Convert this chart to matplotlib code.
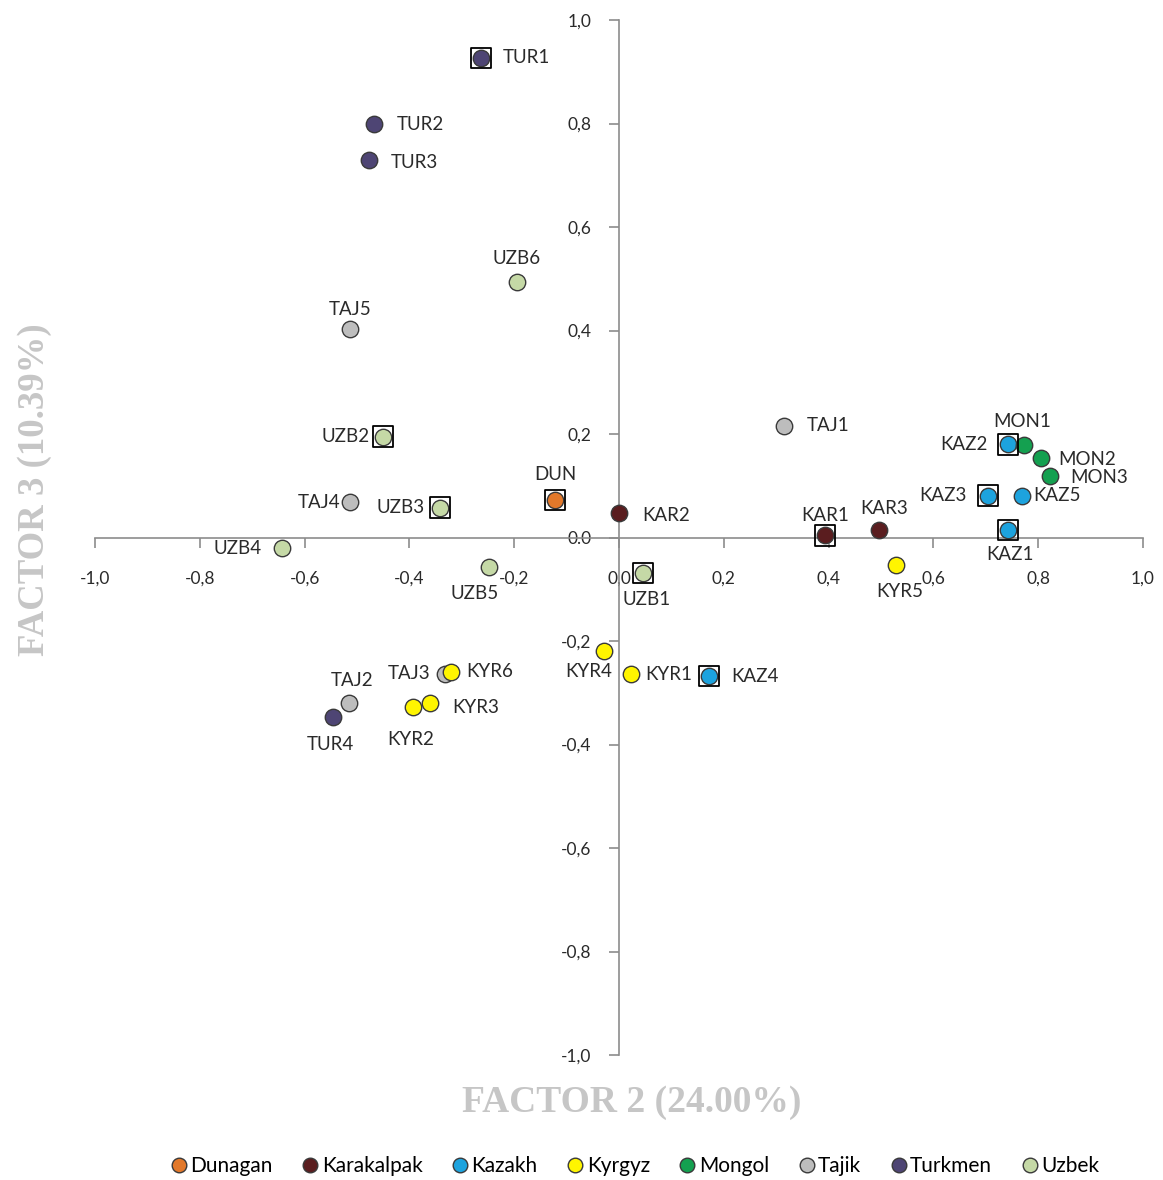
import matplotlib.pyplot as plt
from matplotlib.lines import Line2D

# factor scores (factor 2, factor 3) per sample
names = ["TUR1", "TUR2", "TUR3", "TUR4",
         "UZB1", "UZB2", "UZB3", "UZB4", "UZB5", "UZB6",
         "TAJ1", "TAJ2", "TAJ3", "TAJ4", "TAJ5",
         "DUN",
         "KAR1", "KAR2", "KAR3",
         "KAZ1", "KAZ2", "KAZ3", "KAZ4", "KAZ5",
         "MON1", "MON2", "MON3",
         "KYR1", "KYR2", "KYR3", "KYR4", "KYR5", "KYR6"]
factor2 = [-0.263, -0.468, -0.477, -0.546,
           0.046, -0.450, -0.342, -0.643, -0.248, -0.195,
           0.315, -0.515, -0.332, -0.513, -0.513,
           -0.122,
           0.393, 0.000, 0.496,
           0.742, 0.742, 0.704, 0.172, 0.769,
           0.773, 0.805, 0.823,
           0.023, -0.393, -0.361, -0.029, 0.529, -0.321]
factor3 = [0.927, 0.799, 0.730, -0.346,
           -0.069, 0.195, 0.058, -0.021, -0.056, 0.494,
           0.216, -0.319, -0.263, 0.068, 0.403,
           0.073,
           0.004, 0.048, 0.015,
           0.014, 0.180, 0.081, -0.268, 0.081,
           0.178, 0.154, 0.118,
           -0.264, -0.328, -0.320, -0.220, -0.054, -0.259]
groups = ["Turkmen"] * 4 + ["Uzbek"] * 6 + ["Tajik"] * 5 + ["Dunagan"] + \
         ["Karakalpak"] * 3 + ["Kazakh"] * 5 + ["Mongol"] * 3 + ["Kyrgyz"] * 6
boxed = ["TUR1", "UZB1", "UZB2", "UZB3", "DUN", "KAR1", "KAZ1", "KAZ2", "KAZ3", "KAZ4"]

group_order = ["Dunagan", "Karakalpak", "Kazakh", "Kyrgyz", "Mongol", "Tajik", "Turkmen", "Uzbek"]
group_colors = {"Dunagan": "#E2782A", "Karakalpak": "#5A1D1F", "Kazakh": "#1DA3DE",
                "Kyrgyz": "#FFF500", "Mongol": "#14A050", "Tajik": "#BDBDBD",
                "Turkmen": "#4E4574", "Uzbek": "#C5D9A6"}

# label offsets in pixels (dx, dy, ha)
label_pos = {
    "TUR1": (22, 0, "left"), "TUR2": (23, 0, "left"), "TUR3": (22, -3, "left"),
    "TUR4": (-3, -28, "center"),
    "UZB1": (4, -26, "center"), "UZB2": (-14, 0, "right"), "UZB3": (-15, 0, "right"),
    "UZB4": (-20, 0, "right"), "UZB5": (-14, -27, "center"), "UZB6": (0, 23, "center"),
    "TAJ1": (23, 0, "left"), "TAJ2": (3, 22, "center"), "TAJ3": (-15, 0, "right"),
    "TAJ4": (-10, 0, "right"), "TAJ5": (0, 20, "center"),
    "DUN": (0, 25, "center"),
    "KAR1": (0, 20, "center"), "KAR2": (23, -3, "left"), "KAR3": (5, 21, "center"),
    "KAZ1": (2, -24, "center"), "KAZ2": (-20, 0, "right"), "KAZ3": (-21, 0, "right"),
    "KAZ4": (22, 0, "left"), "KAZ5": (11, 0, "left"),
    "MON1": (-2, 24, "center"), "MON2": (17, -2, "left"), "MON3": (20, -1, "left"),
    "KYR1": (14, 0, "left"), "KYR2": (-2, -32, "center"), "KYR3": (22, -4, "left"),
    "KYR4": (-15, -20, "center"), "KYR5": (4, -26, "center"), "KYR6": (15, 0, "left"),
}

ticks = [-1.0, -0.8, -0.6, -0.4, -0.2, 0.0, 0.2, 0.4, 0.6, 0.8, 1.0]

fig = plt.figure(figsize=(11.63, 11.80), dpi=100)
ax = fig.add_axes([0.0817, 0.1059, 0.9011, 0.8771])
ax.set_xlim(-1, 1)
ax.set_ylim(-1, 1)

for n, x, y, g in zip(names, factor2, factor3, groups):
    ax.scatter(x, y, s=140, color=group_colors[g], edgecolor="#3a3a3a",
               linewidth=1.0, zorder=3)
    if n in boxed:
        ax.scatter(x, y, s=215, marker="s", facecolor="none", edgecolor="black",
                   linewidth=1.3, zorder=4)
    dx, dy, ha = label_pos[n]
    ax.annotate(n, (x, y), xytext=(dx, dy), textcoords="offset pixels",
                ha=ha, va="center", fontsize=13.5, family="Lato", color="#2a2a2a")

for side in ["top", "right"]:
    ax.spines[side].set_visible(False)
ax.spines["left"].set_position("zero")
ax.spines["bottom"].set_position("zero")
for side in ["left", "bottom"]:
    ax.spines[side].set_color("#8c8c8c")
    ax.spines[side].set_linewidth(1.2)

ax.set_xticks(ticks)
ax.set_yticks(ticks)
ax.set_xticklabels([f"{t:.1f}".replace(".", ",") for t in ticks])
ax.set_yticklabels(["0.0" if t == 0 else f"{t:.1f}".replace(".", ",") for t in ticks])
ax.tick_params(direction="out", length=7, width=1.2, color="#8c8c8c", labelsize=12.5,
               labelcolor="#2a2a2a")
ax.tick_params(axis="x", pad=17)
ax.tick_params(axis="y", pad=13)
for lbl in ax.get_xticklabels() + ax.get_yticklabels():
    lbl.set_family("Lato")

fig.text(0.543, 0.066, "FACTOR 2 (24.00%)", ha="center", va="center",
         fontsize=27, fontweight="bold", family="Liberation Serif", color="#c6c6c6")
fig.text(0.030, 0.585, "FACTOR 3 (10.39%)", ha="center", va="center", rotation=90,
         fontsize=26.5, fontweight="bold", family="Liberation Serif", color="#c6c6c6")

handles = [Line2D([], [], marker="o", linestyle="none", markersize=10.5,
                  markerfacecolor=group_colors[g], markeredgecolor="#3a3a3a",
                  markeredgewidth=1.0, label=g) for g in group_order]
leg = fig.legend(handles=handles, loc="center", bbox_to_anchor=(0.545, 0.012),
                 ncol=8, frameon=False, handletextpad=0.05, columnspacing=1.3,
                 handlelength=1.0, prop={"family": "Lato", "size": 15})

fig.savefig("out.png", dpi=100)
